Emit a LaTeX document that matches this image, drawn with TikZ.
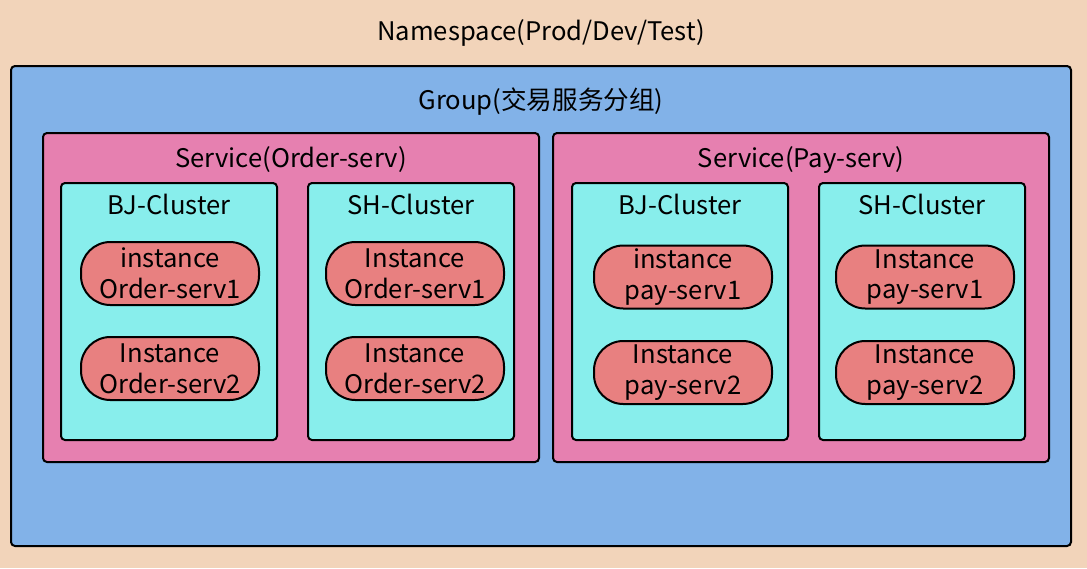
\documentclass[tikz,border=0pt]{standalone}
\usepackage{fontspec}
\setmainfont{Noto Sans CJK SC}
\definecolor{peach}{RGB}{242,212,186}
\definecolor{grpblue}{RGB}{130,178,232}
\definecolor{svcpink}{RGB}{230,128,176}
\definecolor{clcyan}{RGB}{136,238,236}
\definecolor{instred}{RGB}{232,128,128}
\tikzset{
  box/.style={draw=black, line width=1.5pt, rounded corners=3pt, inner sep=0pt},
  groupbox/.style={box, fill=grpblue},
  servicebox/.style={box, fill=svcpink, minimum width=372pt, minimum height=246.75pt},
  clusterbox/.style={box, fill=clcyan, minimum height=192.75pt},
  instbox/.style={box, fill=instred, rounded corners=22pt, minimum width=133.5pt, minimum height=47.25pt, align=center, font=\fontsize{19.2}{23}\selectfont},
  title/.style={inner sep=0.75pt, font=\fontsize{19.2}{23}\selectfont}
}
\begin{document}
\begin{tikzpicture}[x=0.75pt,y=0.75pt,yscale=-1,xscale=1]
	\fill [peach] (0,0) rectangle (1087,568);
	\useasboundingbox (0,0) rectangle (1087,568);
	% namespace and group
	\node [title] (ns) at (541,33) {Namespace(Prod/Dev/Test)};
	\node [groupbox, minimum width=795pt, minimum height=360pt] (grp) at (541,306) {};
	\node [title] (grpTitle) at (541,102) {Group(交易服务分组)};
	% service boxes
	\node [servicebox] (svcOrder) at (291,297.5) {};
	\node [servicebox] (svcPay) at (801,297.5) {};
	\node [title] (svcOrderTitle) at (291,160) {Service(Order-serv)};
	\node [title] (svcPayTitle) at (801,160) {Service(Pay-serv)};
	% clusters
	\node [clusterbox, minimum width=162pt] (bjOrder) at (169,311.5) {};
	\node [clusterbox, minimum width=154.5pt] (shOrder) at (411,311.5) {};
	\node [clusterbox, minimum width=162pt] (bjPay) at (680,311.5) {};
	\node [clusterbox, minimum width=154.5pt] (shPay) at (922,311.5) {};
	\node [title] (bjOrderTitle) at (169,204) {BJ-Cluster};
	\node [title] (shOrderTitle) at (411,204) {SH-Cluster};
	\node [title] (bjPayTitle) at (680,204) {BJ-Cluster};
	\node [title] (shPayTitle) at (922,204) {SH-Cluster};
	% instances
	\node [instbox] (bjOrder1) at (170,273.5) {instance\\Order-serv1};
	\node [instbox] (bjOrder2) at (170,368.5) {Instance\\Order-serv2};
	\node [instbox] (shOrder1) at (415,273.5) {Instance\\Order-serv1};
	\node [instbox] (shOrder2) at (415,368.5) {Instance\\Order-serv2};
	\node [instbox] (bjPay1) at (683,277) {instance\\pay-serv1};
	\node [instbox] (bjPay2) at (683,372.5) {Instance\\pay-serv2};
	\node [instbox] (shPay1) at (925,277) {Instance\\pay-serv1};
	\node [instbox] (shPay2) at (925,372.5) {Instance\\pay-serv2};
\end{tikzpicture}
\end{document}
